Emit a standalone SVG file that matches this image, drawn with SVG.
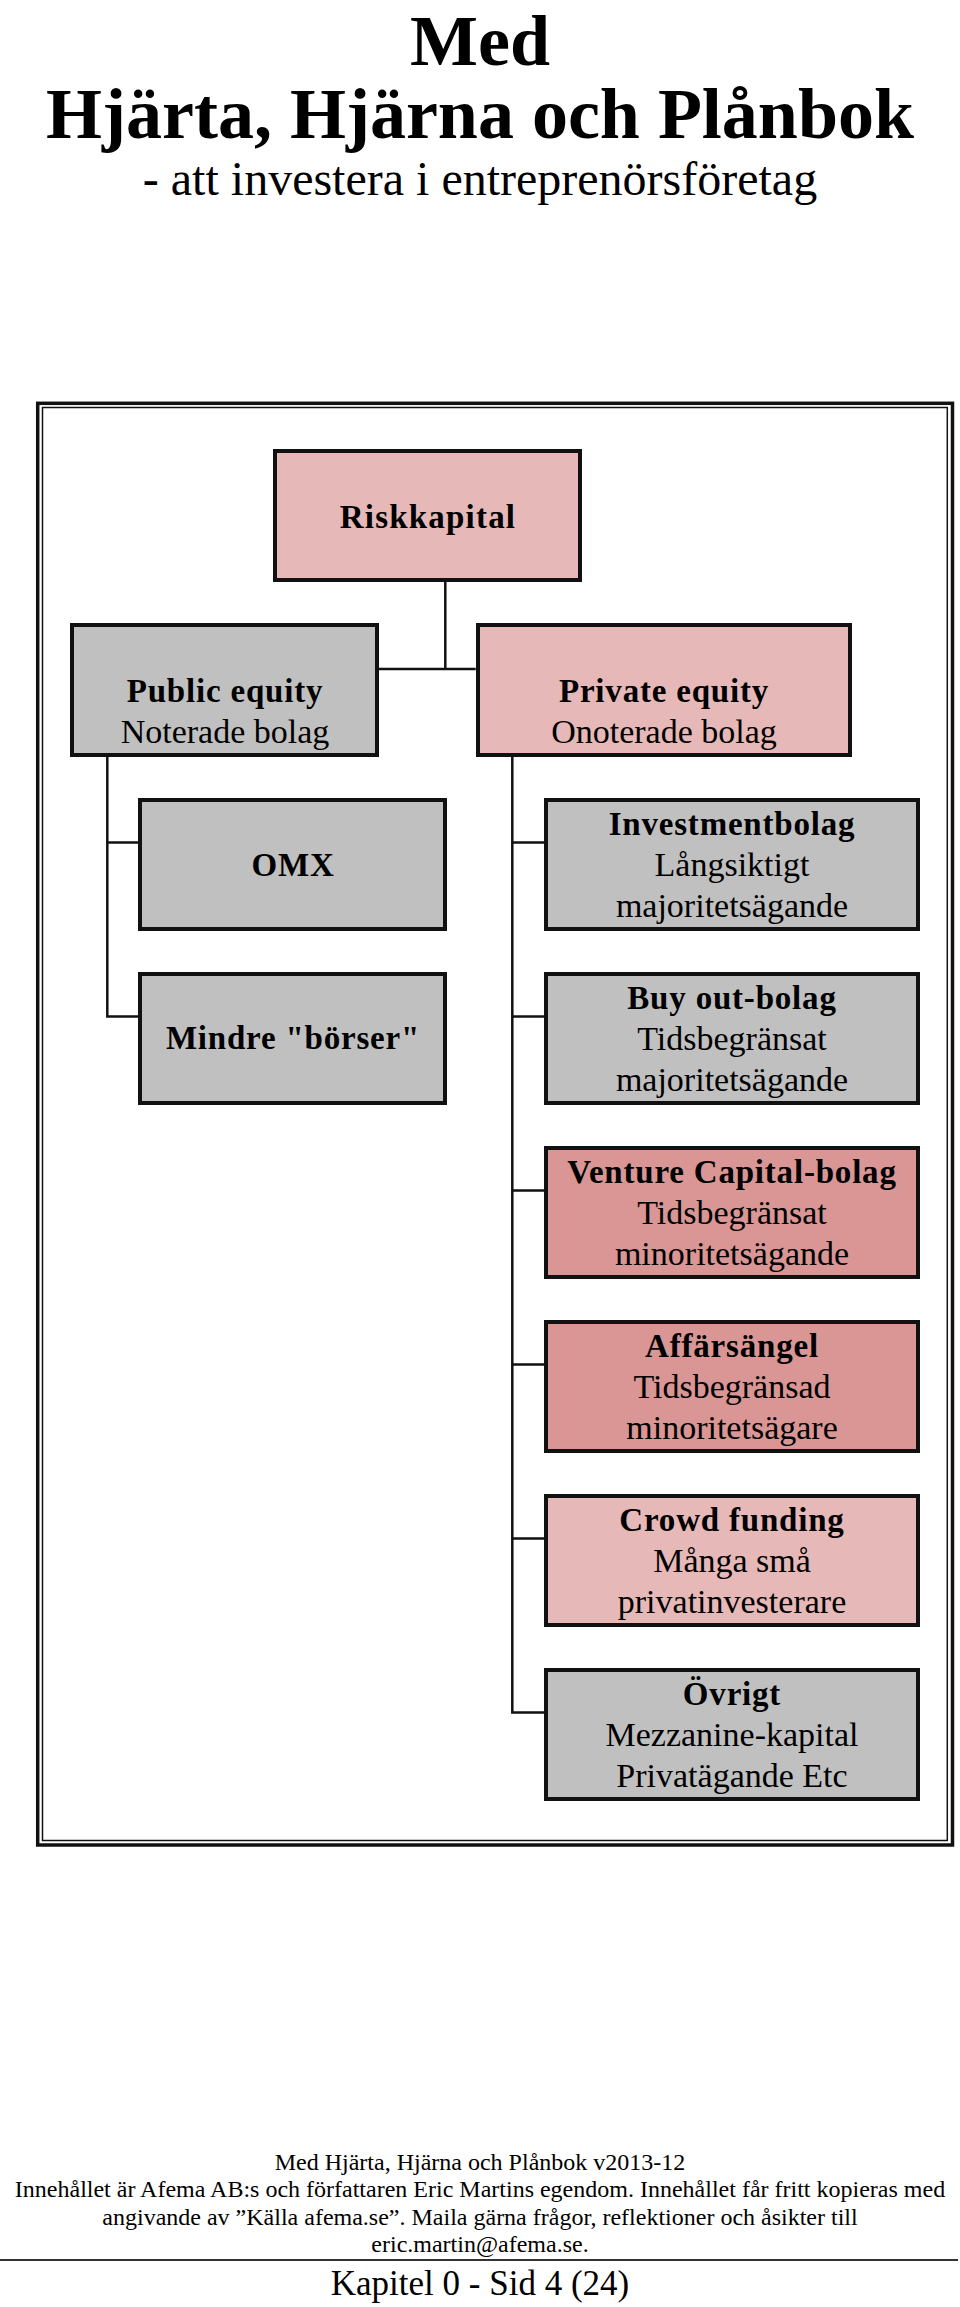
<svg xmlns="http://www.w3.org/2000/svg" width="960" height="2307" viewBox="0 0 960 2307">
<style>
text{font-family:"Liberation Serif","Times New Roman",serif;fill:#000;text-anchor:middle}
.t1{font-size:72px;font-weight:bold}
.t2{font-size:48px}
.b{font-size:33px;font-weight:bold;letter-spacing:0.8px}
.r{font-size:34px}
.f{font-size:24px}
.k{font-size:35px}
.box{stroke:#111;stroke-width:4}
.pink{fill:#E6B8B7}
.dpink{fill:#D99694}
.gray{fill:#C0C0C0}
.conn{fill:none;stroke:#111;stroke-width:2.5}
</style>
<rect width="960" height="2307" fill="#fff"/>
<g id="title">
<text class="t1" x="480" y="65">Med</text>
<text class="t1" x="480" y="138">Hjärta, Hjärna och Plånbok</text>
<text class="t2" x="480" y="195">- att investera i entreprenörsföretag</text>
</g>
<g id="frame" fill="none" stroke="#111">
<rect x="37.7" y="403.3" width="914.8" height="1441.7" stroke-width="3.5"/>
<rect x="42.5" y="407.5" width="904.8" height="1433" stroke-width="1.5"/>
</g>
<g id="connectors" class="conn">
<polyline points="445.3,582 445.3,669"/>
<polyline points="378.7,669 475.7,669"/>
<polyline points="107.3,757 107.3,1016.5 138.3,1016.5"/>
<polyline points="107.3,842.5 138.3,842.5"/>
<polyline points="512.3,757 512.3,1712.5 544,1712.5"/>
<polyline points="512.3,842.5 544,842.5"/>
<polyline points="512.3,1016.5 544,1016.5"/>
<polyline points="512.3,1190.5 544,1190.5"/>
<polyline points="512.3,1364.5 544,1364.5"/>
<polyline points="512.3,1538.5 544,1538.5"/>
</g>
<g id="riskkapital">
<rect class="box pink" x="275" y="451" width="305" height="129"/>
<text class="b" x="428" y="528.3" style="letter-spacing:1.2px">Riskkapital</text>
</g>
<g id="public-equity">
<rect class="box gray" x="72" y="625" width="305" height="130"/>
<text class="b" x="225" y="701.7">Public equity</text>
<text class="r" x="225" y="743.3">Noterade bolag</text>
</g>
<g id="private-equity">
<rect class="box pink" x="478" y="625" width="372" height="130"/>
<text class="b" x="664" y="701.7">Private equity</text>
<text class="r" x="664" y="743.3">Onoterade bolag</text>
</g>
<g id="omx">
<rect class="box gray" x="140" y="800" width="305" height="129"/>
<text class="b" x="293" y="876">OMX</text>
</g>
<g id="mindre-borser">
<rect class="box gray" x="140" y="974" width="305" height="129"/>
<text class="b" x="293" y="1049.3">Mindre "börser"</text>
</g>
<g id="investmentbolag">
<rect class="box gray" x="546" y="800" width="372" height="129"/>
<text class="b" x="732" y="834.5">Investmentbolag</text>
<text class="r" x="732" y="875.5">Långsiktigt</text>
<text class="r" x="732" y="917">majoritetsägande</text>
</g>
<g id="buyout">
<rect class="box gray" x="546" y="974" width="372" height="129"/>
<text class="b" x="732" y="1008.5">Buy out-bolag</text>
<text class="r" x="732" y="1049.5">Tidsbegränsat</text>
<text class="r" x="732" y="1091">majoritetsägande</text>
</g>
<g id="venture">
<rect class="box dpink" x="546" y="1148" width="372" height="129"/>
<text class="b" x="732" y="1182.5">Venture Capital-bolag</text>
<text class="r" x="732" y="1223.5">Tidsbegränsat</text>
<text class="r" x="732" y="1265">minoritetsägande</text>
</g>
<g id="affarsangel">
<rect class="box dpink" x="546" y="1322" width="372" height="129"/>
<text class="b" x="732" y="1356.5">Affärsängel</text>
<text class="r" x="732" y="1397.5">Tidsbegränsad</text>
<text class="r" x="732" y="1439">minoritetsägare</text>
</g>
<g id="crowdfunding">
<rect class="box pink" x="546" y="1496" width="372" height="129"/>
<text class="b" x="732" y="1530.5">Crowd funding</text>
<text class="r" x="732" y="1571.5">Många små</text>
<text class="r" x="732" y="1613">privatinvesterare</text>
</g>
<g id="ovrigt">
<rect class="box gray" x="546" y="1670" width="372" height="129"/>
<text class="b" x="732" y="1704.5">Övrigt</text>
<text class="r" x="732" y="1745.5">Mezzanine-kapital</text>
<text class="r" x="732" y="1787">Privatägande Etc</text>
</g>
<g id="footer">
<text class="f" x="480" y="2170">Med Hjärta, Hjärna och Plånbok v2013-12</text>
<text class="f" x="480" y="2197">Innehållet är Afema AB:s och författaren Eric Martins egendom. Innehållet får fritt kopieras med</text>
<text class="f" x="480" y="2224.5">angivande av ”Källa afema.se”. Maila gärna frågor, reflektioner och åsikter till</text>
<text class="f" x="480" y="2252">eric.martin@afema.se.</text>
<line x1="0" y1="2260" x2="958" y2="2260" stroke="#333" stroke-width="2"/>
<text class="k" x="480" y="2295">Kapitel 0 - Sid 4 (24)</text>
</g>
</svg>
